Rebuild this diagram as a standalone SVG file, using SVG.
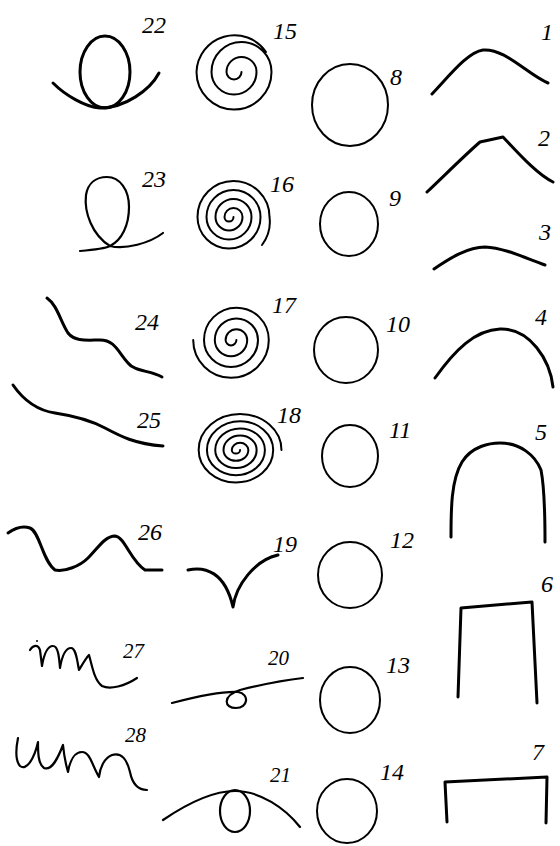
<svg xmlns="http://www.w3.org/2000/svg" width="560" height="846" viewBox="0 0 560 846">
<style>
.s{fill:none;stroke:#000;stroke-width:2.2;stroke-linecap:round;stroke-linejoin:round}
.b{stroke-width:3}
.c{stroke-width:2}
.t{font-family:"Liberation Serif",serif;font-style:italic;font-size:24px;fill:#000}
.sm{font-size:21px}
</style>
<rect width="560" height="846" fill="#fff"/>
<g id="fig1"><path class="s b" d="M432,94 C450,75 468,52 483,50 C505,48 528,75 548,83"/><text class="t" x="541" y="40">1</text></g>
<g id="fig2"><path class="s b" d="M427,192 C445,175 465,155 480,142 L503,137 C520,155 538,175 553,182"/><text class="t" x="538" y="146">2</text></g>
<g id="fig3"><path class="s b" d="M434,269 C450,258 468,247 485,247 C505,248 525,258 545,265"/><text class="t" x="539" y="240">3</text></g>
<g id="fig4"><path class="s b" d="M435,378 C455,350 475,330 500,329 C530,328 550,360 553,387"/><text class="t" x="535" y="325">4</text></g>
<g id="fig5"><path class="s b" d="M451,537 C451,510 451,480 462,462 C472,446 490,443 500,443 C520,443 535,455 541,470 C545,490 545,520 545,542"/><text class="t" x="535" y="440">5</text></g>
<g id="fig6"><path class="s b" d="M458,697 L461,608 L532,602 L537,703"/><text class="t" x="541" y="592">6</text></g>
<g id="fig7"><path class="s b" d="M447,822 L445,782 L547,777 L546,823"/><text class="t" x="532" y="760">7</text></g>
<g id="fig8"><ellipse class="s c" cx="350" cy="105" rx="38" ry="41"/><text class="t" x="390" y="85" font-size="28">8</text></g>
<g id="fig9"><ellipse class="s c" cx="349" cy="224" rx="29" ry="32"/><text class="t" x="389" y="206">9</text></g>
<g id="fig10"><ellipse class="s c" cx="346" cy="350" rx="32" ry="33"/><text class="t" x="386" y="332">10</text></g>
<g id="fig11"><ellipse class="s c" cx="350" cy="456" rx="28" ry="31"/><text class="t" x="389" y="438">11</text></g>
<g id="fig12"><ellipse class="s c" cx="350" cy="575" rx="32" ry="33"/><text class="t" x="390" y="548">12</text></g>
<g id="fig13"><ellipse class="s c" cx="350" cy="700" rx="30" ry="33"/><text class="t" x="386" y="673">13</text></g>
<g id="fig14"><ellipse class="s c" cx="347" cy="811" rx="30" ry="32"/><text class="t" x="380" y="780">14</text></g>
<g id="fig15"><path class="s c" d="M241.5,72 A7.5,7.5 0 0 1 226.5,72 A15,15 0 0 1 256.5,72 A22.5,22.5 0 0 1 211.5,72 A30,30 0 0 1 271.5,72 A37.5,37.5 0 0 1 196.5,72 A38,38 0 0 1 266,52"/><text class="t" x="273" y="39">15</text></g>
<g id="fig16"><path class="s c" d="M233.5,217 A4.5,4.5 0 0 1 224.5,217 A9,9 0 0 1 242.5,217 A13.5,13.5 0 0 1 215.5,217 A18,18 0 0 1 251.5,217 A22.5,22.5 0 0 1 206.5,217 A27,27 0 0 1 260.5,217 A31.5,31.5 0 0 1 197.5,217 A36,36 0 0 1 269.5,217 A38,38 0 0 1 262,245"/><text class="t" x="270" y="192">16</text></g>
<g id="fig17"><path class="s c" d="M236.4,340 A5.4,5.4 0 0 1 225.6,340 A10.8,10.8 0 0 1 247.2,340 A16.2,16.2 0 0 1 214.8,340 A21.6,21.6 0 0 1 258,340 A27,27 0 0 1 204,340 A32.4,32.4 0 0 1 268.8,340 A37.8,37.8 0 0 1 193.2,340"/><text class="t" x="272" y="313">17</text></g>
<g id="fig18"><path class="s c" vector-effect="non-scaling-stroke" transform="translate(238,450) scale(1.15,1)" d="M1.8,0 A3.6,3.6 0 0 1 -5.4,0 A7.2,7.2 0 0 1 9,0 A10.8,10.8 0 0 1 -12.6,0 A14.4,14.4 0 0 1 16.2,0 A18,18 0 0 1 -19.8,0 A21.6,21.6 0 0 1 23.4,0 A25.2,25.2 0 0 1 -27,0 A28.8,28.8 0 0 1 30.6,0 A32.4,32.4 0 0 1 -34.2,0 A36,36 0 0 1 37.8,0"/><text class="t" x="277" y="423">18</text></g>
<g id="fig19"><path class="s b" d="M188,570 C205,566 225,572 233,607 C236,585 255,560 278,555"/><text class="t" x="273" y="552">19</text></g>
<g id="fig20"><path class="s" d="M172,703 C195,697 220,691 238,692 C250,694 248,708 236,708 C224,708 222,696 240,690 C260,685 285,680 303,678"/><text class="t sm" x="268" y="665">20</text></g>
<g id="fig21"><path class="s" d="M163,820 C185,805 210,791 235,791 C260,791 285,808 300,827"/><ellipse class="s" cx="235" cy="811" rx="15" ry="21"/><text class="t sm" x="270" y="782">21</text></g>
<g id="fig22"><ellipse class="s b" cx="105" cy="72" rx="25" ry="36"/><path class="s b" d="M53,83 C65,95 85,107 100,108 C125,108 150,90 159,73"/><text class="t" x="142" y="33">22</text></g>
<g id="fig23"><path class="s" d="M80,251 C92,250 104,249 110,246 C92,235 84,212 86,195 C88,183 96,177 107,177 C120,177 129,190 129,207 C129,225 122,240 110,246 C125,250 150,243 163,233"/><text class="t" x="142" y="187">23</text></g>
<g id="fig24"><path class="s b" d="M47,298 C57,305 60,320 68,333 C75,342 88,340 100,340 C115,340 118,352 128,363 C135,372 150,370 162,377"/><text class="t" x="135" y="330">24</text></g>
<g id="fig25"><path class="s b" d="M13,385 C22,398 35,410 55,413 C75,416 90,420 105,428 C120,436 135,444 163,446"/><text class="t" x="137" y="428">25</text></g>
<g id="fig26"><path class="s b" d="M8,533 C15,528 22,525 30,528 C40,532 42,560 55,570 C65,572 80,566 88,558 C98,548 105,536 115,536 C125,537 130,560 145,570 L162,570"/><text class="t" x="138" y="540">26</text></g>
<g id="fig27"><path class="s" d="M30,650 C33,645 38,644 40,650 L42,666 C44,654 48,646 53,646 C58,646 59,656 60,668 C62,656 66,648 71,648 C76,648 77,660 79,670 C82,665 86,658 89,655 C92,665 94,680 102,686 C110,690 125,686 137,678"/><circle cx="37" cy="641" r="1" fill="#000"/><text class="t sm" x="123" y="658">27</text></g>
<g id="fig28"><path class="s" d="M18,738 C16,748 15,760 20,766 C26,771 34,760 38,742 C38,752 38,764 44,768 C52,771 58,758 63,745 C64,755 66,765 68,772 C70,760 75,752 82,752 C90,752 92,765 99,777 C100,768 104,758 112,755 C122,752 127,760 130,772 C132,782 136,790 147,790"/><text class="t sm" x="125" y="742">28</text></g>
</svg>
